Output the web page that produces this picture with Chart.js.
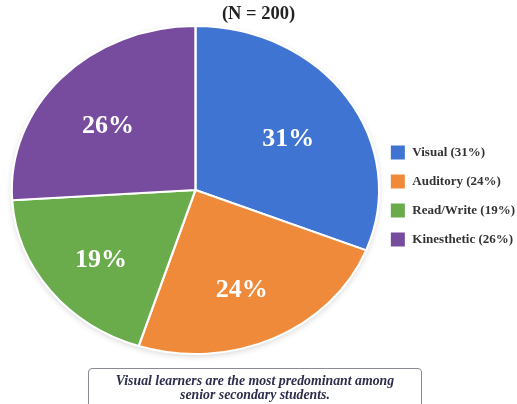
<!DOCTYPE html>
<html>
<head>
<meta charset="utf-8">
<script src="https://cdn.jsdelivr.net/npm/chart.js@4"></script>
<style>
  html, body { margin: 0; padding: 0; background: #fff; }
  #wrap { position: relative; width: 517px; height: 404px; overflow: hidden; }
  #sub {
    position: absolute; left: 0; top: 2px; width: 517px; text-align: center;
    font: bold 18.5px "Liberation Serif", serif; color: #222; line-height: 22px;
  }
  #note {
    position: absolute; left: 88px; top: 368px; width: 334px; height: 50px;
    border: 1px solid #8a8a96; border-radius: 4px; box-sizing: border-box;
    font: italic bold 13.8px "Liberation Serif", serif; color: #2b2d4a;
    text-align: center; line-height: 14px; padding-top: 5px;
  }
</style>
</head>
<body>
<div id="wrap">
  <canvas id="pie"></canvas>
  <div id="sub">(N = 200)</div>
  <div id="note">Visual learners are the most predominant among<br>senior secondary students.</div>
</div>
<script>
/* DATA */

const categories = ["Visual", "Auditory", "Read/Write", "Kinesthetic"];
const shares = [31, 24, 19, 26];
const colors = ["#3f74d2", "#f08a3b", "#6aab4b", "#774c9f"];

/* ellipse: stretch pie sideways like the original */
const STRETCH_X = 1.12;

const ellipsePlugin = {
  id: "ellipse",
  beforeDatasetsDraw(chart) {
    const arc = chart.getDatasetMeta(0).data[0];
    const ctx = chart.ctx;
    ctx.save();
    ctx.translate(arc.x, arc.y);
    ctx.scale(STRETCH_X, 1);
    ctx.translate(-arc.x, -arc.y);

    // soft shadow under the whole pie
    ctx.save();
    ctx.shadowColor = "rgba(0,0,0,0.18)";
    ctx.shadowBlur = 6;
    ctx.shadowOffsetY = 2;
    ctx.fillStyle = "#fff";
    ctx.beginPath();
    ctx.arc(arc.x, arc.y, arc.outerRadius, 0, Math.PI * 2);
    ctx.fill();
    ctx.restore();
  },
  afterDatasetsDraw(chart) {
    const ctx = chart.ctx;
    ctx.restore();

    // percentage labels inside slices
    ctx.save();
    ctx.fillStyle = "#fff";
    ctx.font = "bold 26px 'Liberation Serif'";
    ctx.textAlign = "center";
    ctx.textBaseline = "alphabetic";
    chart.getDatasetMeta(0).data.forEach((arc, i) => {
      const mid = (arc.startAngle + arc.endAngle) / 2;
      const r = arc.outerRadius * 0.63;
      const x = arc.x + Math.cos(mid) * r * STRETCH_X;
      const y = arc.y + Math.sin(mid) * r;
      ctx.fillText(shares[i] + "%", x - 3, y + 14);
    });
    ctx.restore();
  }
};

new Chart(document.getElementById("pie"), {
  type: "pie",
  data: {
    labels: categories.map((c, i) => `${c} (${shares[i]}%)`),
    datasets: [{
      data: shares,
      backgroundColor: colors,
      borderColor: "#fff",
      borderWidth: 2
    }]
  },
  options: {
    responsive: true,
    maintainAspectRatio: false,
    animation: false,
    layout: { padding: { left: 14, right: -8, top: 25, bottom: 49 } },
    plugins: {
      legend: {
        position: "right",
        title: {
          display: true,
          text: "",
          font: { size: 10 },
          padding: 0
        },
        labels: {
          boxWidth: 16,
          boxHeight: 16,
          padding: 13,
          color: "#333",
          font: { family: "Liberation Serif", size: 13, weight: "bold" }
        }
      },
      tooltip: { enabled: false }
    }
  },
  plugins: [ellipsePlugin]
});
</script>
</body>
</html>
